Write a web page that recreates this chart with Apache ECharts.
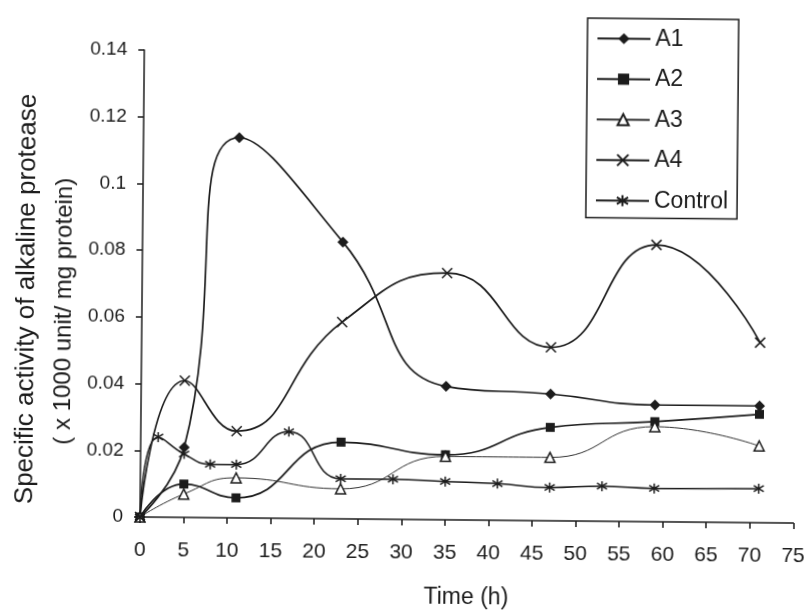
<!DOCTYPE html>
<html><head><meta charset="utf-8">
<script src="https://cdn.jsdelivr.net/npm/echarts@6/dist/echarts.min.js"></script>
<style>html,body{margin:0;padding:0;background:#fff;overflow:hidden}
#c{width:808px;height:614px;transform:rotate(0.53deg);transform-origin:140px 517px}</style>
</head><body><div id="c"></div>
<script>
const xTicks = [0,5,10,15,20,25,30,35,40,45,50,55,60,65,70,75];
const yTicks = [0,0.02,0.04,0.06,0.08,0.1,0.12,0.14];
const timeA = [0,5,11,23,35,47,59,71];
const a1 = [0,0.021,0.114,0.083,0.040,0.038,0.035,0.035];
const a2 = [0,0.010,0.006,0.023,0.0195,0.028,0.030,0.0325];
const a3 = [0,0.007,0.012,0.009,0.019,0.019,0.0285,0.023];
const a4 = [0,0.041,0.026,0.059,0.074,0.052,0.083,0.054];
const timeC = [0,2,5,8,11,17,23,29,35,41,47,53,59,71];
const ctrl = [0,0.024,0.019,0.016,0.016,0.026,0.012,0.012,0.0115,0.011,0.010,0.0105,0.010,0.0102];

const ink = '#1c1c1c';
const pair = (xs, ys) => xs.map((x,i)=>[x, ys[i]]);
const font = 'Liberation Sans, Arial, sans-serif';

const chart = echarts.init(document.getElementById('c'));
chart.setOption({
  backgroundColor:'#fff',
  animation:false,
  grid:{left:140,right:14,top:50,bottom:97},
  xAxis:{type:'value',min:0,max:75,interval:5,
    axisLine:{lineStyle:{color:ink,width:1.5}},
    axisTick:{length:6,lineStyle:{color:ink,width:1.5}},
    splitLine:{show:false},
    axisLabel:{color:ink,fontFamily:font,fontSize:21,margin:23},
    name:'Time (h)',nameLocation:'middle',nameGap:66,
    nameTextStyle:{color:ink,fontFamily:font,fontSize:23}},
  yAxis:{type:'value',min:0,max:0.14,interval:0.02,
    axisLine:{show:true,lineStyle:{color:ink,width:1.5}},
    axisTick:{show:true,length:6,lineStyle:{color:ink,width:1.5}},
    splitLine:{show:false},
    axisLabel:{color:ink,fontFamily:font,fontSize:19,margin:17,
      formatter:v=>String(parseFloat(v.toFixed(2)))}},
  graphic:[
    {type:'text',x:25,y:300,rotation:Math.PI/2,
      style:{text:'Specific activity of alkaline protease',fill:ink,font:'26px '+font,align:'center',verticalAlign:'middle'}},
    {type:'text',x:62,y:312,rotation:Math.PI/2,
      style:{text:'( x 1000 unit/ mg protein)',fill:ink,font:'24px '+font,align:'center',verticalAlign:'middle'}}
  ],
  legend:{orient:'vertical',left:583,top:14,
    padding:[8,9,5,9],itemGap:16,itemWidth:53,itemHeight:14,
    borderColor:ink,borderWidth:1.5,
    textStyle:{color:ink,fontFamily:font,fontSize:23,lineHeight:24.5},
    data:['A1','A2','A3','A4','Control']},
  series:[
    {name:'A1',type:'line',smooth:0.5,data:pair(timeA,a1),
      symbol:'diamond',symbolSize:11,
      lineStyle:{color:ink,width:1.7},itemStyle:{color:ink}},
    {name:'A2',type:'line',smooth:0.5,data:pair(timeA,a2),
      symbol:'rect',symbolSize:9,
      lineStyle:{color:ink,width:1.7},itemStyle:{color:ink}},
    {name:'A3',type:'line',smooth:0.5,data:pair(timeA,a3),
      symbol:'triangle',symbolSize:10,
      lineStyle:{color:'#333',width:1},itemStyle:{color:'#fff',borderColor:ink,borderWidth:1.5}},
    {name:'A4',type:'line',smooth:0.5,data:pair(timeA,a4),
      symbol:'path://M0,0L10,10M10,0L0,10',symbolSize:10,
      lineStyle:{color:ink,width:1.7},itemStyle:{color:'none',borderColor:ink,borderWidth:1.5}},
    {name:'Control',type:'line',smooth:0.5,data:pair(timeC,ctrl),
      symbol:'path://M0,2L10,8M10,2L0,8M5,0L5,10',symbolSize:10,
      lineStyle:{color:ink,width:1.5},itemStyle:{color:'none',borderColor:ink,borderWidth:1.5}}
  ]
});
</script></body></html>
